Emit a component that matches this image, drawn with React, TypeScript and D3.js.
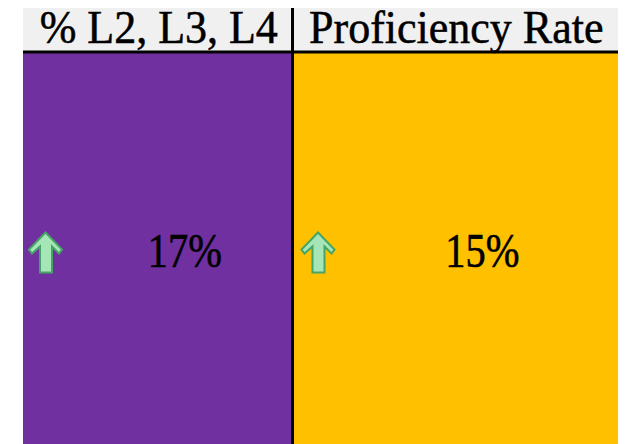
import React from "react";
import * as d3 from "d3";

const categories = ["% L2, L3, L4", "Proficiency Rate"];
const values = [17, 15];
const trends = ["up", "up"];

const W = 633;
const H = 444;
const LEFT = 23;
const RIGHT = 618;
const TOP = 8;
const HEADER_BOTTOM = 52;
const DIVIDER = 292.5;
const fills = ["#7030a0", "#ffc000"];

export default function App() {
  const edges = [LEFT, DIVIDER, RIGHT];
  const colX = d3.scaleOrdinal<string, number>().domain(categories).range(edges.slice(0, 2));
  const colW = d3.scaleOrdinal<string, number>().domain(categories).range([DIVIDER - LEFT, RIGHT - DIVIDER]);
  const fmt = d3.format(".0f");
  const arrow = (cx: number, y: number) => {
    const p = d3.path();
    p.moveTo(cx, y);
    p.lineTo(cx + 16.5, y + 17);
    p.lineTo(cx + 13.5, y + 21);
    p.lineTo(cx + 6.5, y + 14);
    p.lineTo(cx + 6.5, y + 40);
    p.lineTo(cx - 5.5, y + 40);
    p.lineTo(cx - 5.5, y + 14);
    p.lineTo(cx - 13.5, y + 21);
    p.lineTo(cx - 16.5, y + 17);
    p.closePath();
    return p.toString();
  };
  return (
    <svg width={W} height={H} style={{ position: "absolute", left: 0, top: 0 }}>
      <defs>
        <filter id="soft" x="-20%" y="-20%" width="140%" height="140%">
          <feGaussianBlur stdDeviation="0.45" />
        </filter>
      </defs>
      <rect x={0} y={0} width={W} height={H} fill="#ffffff" />
      <rect x={LEFT} y={TOP} width={RIGHT - LEFT} height={HEADER_BOTTOM - TOP} fill="#f0f0f0" />
      {categories.map((c, i) => {
        const x0 = colX(c);
        const w = colW(c);
        return (
          <g key={c}>
            <rect x={x0} y={HEADER_BOTTOM} width={w} height={H - HEADER_BOTTOM} fill={fills[i]} />
            <g transform={`translate(${x0 + w / 2 + 1},43) scale(1,1.06)`}>
              <text
                x={0}
                y={0}
                textAnchor="middle"
                fontFamily="Liberation Serif, Times New Roman, serif"
                fontSize={44}
                fill="#000"
                stroke="#000"
                strokeWidth={0.5}
              >
                {c}
              </text>
            </g>
            <g transform={`translate(${x0 + w / 2 + 27},267) scale(1,1.18)`}>
              <text
                x={0}
                y={0}
                textAnchor="middle"
                fontFamily="Liberation Serif, Times New Roman, serif"
                fontSize={40.5}
                fill="#000"
                stroke="#000"
                strokeWidth={0.5}
              >
                {fmt(values[i]) + "%"}
              </text>
            </g>
            {trends[i] === "up" && (
              <path
                d={arrow(x0 + (i === 0 ? 22.5 : 25.5), 232.5)}
                fill="#a6e6b6"
                stroke="#45a566"
                strokeWidth={2}
                strokeLinejoin="miter"
                filter="url(#soft)"
              />
            )}
          </g>
        );
      })}
      <line x1={LEFT} x2={RIGHT} y1={HEADER_BOTTOM} y2={HEADER_BOTTOM} stroke="#000" strokeWidth={3} />
      <line x1={DIVIDER} x2={DIVIDER} y1={TOP} y2={H} stroke="#000" strokeWidth={3} />
    </svg>
  );
}
